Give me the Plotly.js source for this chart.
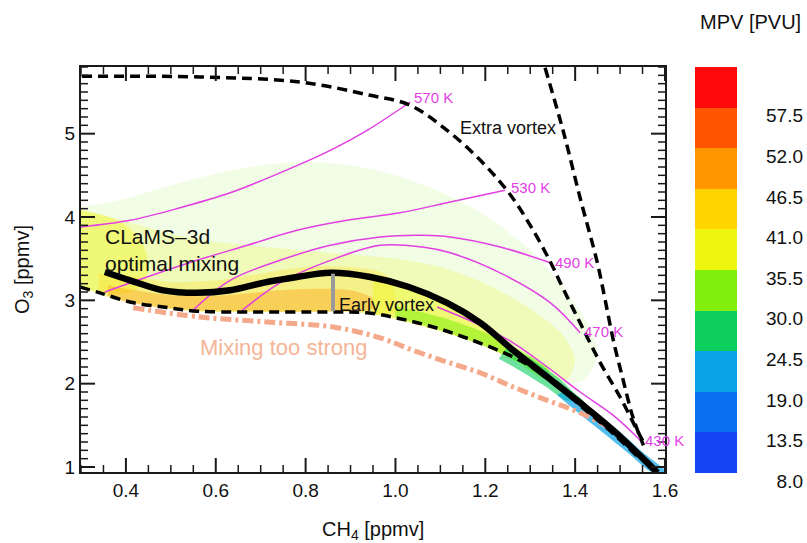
<!DOCTYPE html>
<html>
<head>
<meta charset="utf-8">
<script src="https://cdn.plot.ly/plotly-3.0.1.min.js"></script>
<style>html,body{margin:0;padding:0;background:#fff;}#chart{width:807px;height:543px;}</style>
</head>
<body>
<div id="chart"></div>
<script>
// ---- axes ----
const xRange = [0.3, 1.6];
const yRange = [0.94, 5.8];
const xMajorTicks = [0.4, 0.6, 0.8, 1.0, 1.2, 1.4, 1.6];
const xTickLabels = ['0.4', '0.6', '0.8', '1.0', '1.2', '1.4', '1.6'];
const yMajorTicks = [1, 2, 3, 4, 5];
const yTickLabels = ['1', '2', '3', '4', '5'];
const xMinorStep = 0.05;
const yMinorStep = 0.1;

// ---- colour bins (MPV [PVU]) ----
const mpvBins = [8.0, 13.5, 19.0, 24.5, 30.0, 35.5, 41.0, 46.5, 52.0, 57.5];
const mpvLabels = ['8.0', '13.5', '19.0', '24.5', '30.0', '35.5', '41.0', '46.5', '52.0', '57.5'];
const binColors = ['#1546f5', '#0a70f2', '#0aa2e6', '#0ccf5e', '#82ee0c', '#eef50e', '#ffd400', '#ff9600', '#ff5400', '#ff0a0a'];

// ---- tracer-cloud regions (CH4, O3) with their typical MPV ----
const hazeCH4 = [0.30,0.40,0.50,0.60,0.70,0.80,0.90,1.00,1.10,1.20,1.30,1.38,1.43,1.45,1.42,1.36,1.30,1.20,1.10,1.00,0.90,0.70,0.55,0.45,0.38,0.30];
const hazeO3  = [4.12,4.22,4.38,4.52,4.62,4.66,4.62,4.50,4.30,4.02,3.60,3.10,2.70,2.35,2.05,1.98,2.18,2.44,2.64,2.79,2.86,2.86,2.87,2.94,3.02,3.15];
const hazeMPV = 33;

const paleCH4 = [0.30,0.40,0.50,0.60,0.75,0.90,1.00,1.10,1.20,1.30,1.37,1.40,1.38,1.30,1.20,1.10,1.00,0.90,0.70,0.55,0.45,0.38,0.30];
const paleO3  = [4.08,3.95,3.80,3.70,3.62,3.55,3.50,3.40,3.20,2.90,2.60,2.30,2.05,2.18,2.44,2.64,2.79,2.86,2.86,2.87,2.94,3.02,3.15];
const paleMPV = 38;

const leftCH4 = [0.30,0.35,0.40,0.44,0.45,0.42,0.36,0.30];
const leftO3  = [4.08,4.02,3.90,3.65,3.35,3.12,3.08,3.15];
const leftMPV = 39;

const goldCH4 = [0.34,0.42,0.50,0.60,0.70,0.80,0.90,0.98,1.00,0.90,0.70,0.55,0.45,0.38,0.34];
const goldO3  = [3.32,3.28,3.22,3.24,3.32,3.40,3.40,3.30,2.86,2.86,2.86,2.87,2.93,3.00,3.08];
const goldMPV = 43;

const orangeCH4 = [0.36,0.42,0.50,0.58,0.66,0.74,0.82,0.90,0.95,0.95,0.85,0.70,0.56,0.47,0.40,0.36];
const orangeO3  = [3.18,3.12,3.06,3.05,3.08,3.12,3.14,3.12,3.02,2.90,2.87,2.87,2.88,2.92,2.99,3.05];
const orangeMPV = 48;

const limeCH4 = [0.95,1.03,1.11,1.19,1.26,1.32,1.36,1.32,1.26,1.19,1.11,1.03,0.95];
const limeO3  = [3.25,3.15,2.97,2.72,2.40,2.12,2.00,2.08,2.30,2.47,2.61,2.73,2.84];
const limeMPV = 37;

const greenBandCH4 = [1.00,1.10,1.20,1.28,1.34,1.34,1.28,1.20,1.10,1.00];
const greenBandO3  = [2.93,2.80,2.61,2.39,2.18,2.05,2.24,2.45,2.64,2.79];
const greenBandMPV = 33;

const greenCH4 = [1.25,1.31,1.36,1.40,1.42,1.38,1.33,1.27,1.23];
const greenO3  = [2.45,2.27,2.08,1.88,1.78,1.80,1.98,2.18,2.30];
const greenMPV = 27;

const blueCH4 = [1.38,1.44,1.50,1.55,1.60,1.60,1.57,1.52,1.46,1.40,1.36];
const blueO3  = [1.93,1.67,1.42,1.18,0.96,0.94,0.94,1.16,1.42,1.68,1.86];
const blueMPV = 21;

// ---- model curves ----
const clamsCH4 = [0.353,0.409,0.483,0.558,0.632,0.705,0.781,0.855,0.944,1.030,1.115,1.189,1.262,1.338,1.411,1.485,1.561,1.583];
const clamsO3  = [3.34,3.24,3.12,3.09,3.12,3.21,3.28,3.33,3.28,3.16,2.97,2.73,2.40,2.08,1.77,1.44,1.05,0.93];

const extraCH4 = [0.302,0.565,0.788,0.944,1.033,1.115,1.189,1.251,1.300,1.345,1.367,1.411,1.456,1.500,1.538,1.556];
const extraO3  = [5.69,5.68,5.62,5.46,5.34,5.04,4.68,4.30,3.90,3.46,3.21,2.73,2.25,1.84,1.44,1.26];

const steepCH4 = [1.333,1.373,1.411,1.449,1.467,1.485,1.507,1.529,1.552];
const steepO3  = [5.79,5.04,4.23,3.46,3.00,2.52,2.04,1.59,1.26];

const earlyCH4 = [0.298,0.342,0.409,0.483,0.558,0.670,0.855,0.937,1.010,1.084,1.162,1.262,1.338,1.411,1.485,1.540];
const earlyO3  = [3.16,3.09,2.98,2.92,2.87,2.86,2.86,2.85,2.78,2.68,2.54,2.32,2.08,1.74,1.40,1.12];

const strongCH4 = [0.416,0.565,0.714,0.861,0.966,1.039,1.115,1.189,1.262,1.338,1.411,1.485,1.500];
const strongO3  = [2.91,2.80,2.74,2.68,2.55,2.40,2.26,2.13,1.96,1.80,1.65,1.44,1.36];

const barCH4 = [0.861, 0.861];
const barO3  = [3.32, 2.87];

// ---- isentropes ----
const isoLabels = ['570 K', '530 K', '490 K', '470 K', '430 K'];
const isoCH4 = [
  [0.298,0.409,0.520,0.632,0.743,0.855,0.937,1.033],
  [0.353,0.447,0.558,0.670,0.781,0.892,1.010,1.122,1.244],
  [0.549,0.632,0.743,0.855,0.966,1.060,1.122,1.233,1.345],
  [0.659,0.743,0.855,0.966,1.060,1.122,1.233,1.345,1.411],
  [1.093,1.189,1.262,1.338,1.411,1.485,1.545]
];
const isoO3 = [
  [3.88,3.96,4.11,4.29,4.53,4.80,5.04,5.38],
  [3.10,3.28,3.48,3.66,3.84,3.96,4.05,4.18,4.32],
  [2.88,3.24,3.48,3.66,3.76,3.78,3.76,3.64,3.45],
  [2.88,3.21,3.48,3.66,3.64,3.57,3.33,2.97,2.61],
  [2.92,2.70,2.49,2.20,1.90,1.62,1.32]
];

// ---- build ----
const FONT = 'Liberation Sans, Arial, Helvetica, sans-serif';
const W = 807, H = 543, M = {l: 81, r: 4, t: 67, b: 53};
const plotW = W - M.l - M.r, plotH = H - M.t - M.b;
const mainWpx = 584, mainHpx = 405;
const xDomain = [0, mainWpx / plotW];
const yDomain = [1 - mainHpx / plotH, 1];

const step = mpvBins[1] - mpvBins[0];
const cmin = mpvBins[0], cmax = mpvBins[0] + step * mpvBins.length;
const colorscale = [];
binColors.forEach((c, i) => {
  colorscale.push([i / binColors.length, c]);
  colorscale.push([(i + 1) / binColors.length, c]);
});
function mpvColor(v, alpha) {
  let i = Math.floor((v - cmin) / step);
  i = Math.max(0, Math.min(binColors.length - 1, i));
  const h = binColors[i];
  const r = parseInt(h.slice(1, 3), 16), g = parseInt(h.slice(3, 5), 16), b = parseInt(h.slice(5, 7), 16);
  return 'rgba(' + r + ',' + g + ',' + b + ',' + alpha + ')';
}
function region(x, y, mpv, alpha) {
  return {type: 'scatter', mode: 'lines', x: x, y: y, fill: 'toself', fillcolor: mpvColor(mpv, alpha),
    line: {width: 0, shape: 'spline', smoothing: 0.8}, hoverinfo: 'skip', showlegend: false};
}
function curve(x, y, line) {
  return {type: 'scatter', mode: 'lines', x: x, y: y, hoverinfo: 'skip', showlegend: false,
    line: Object.assign({shape: 'spline', smoothing: 1}, line)};
}
const MAG = '#e23fe3';
const traces = [
  region(hazeCH4, hazeO3, hazeMPV, 0.11),
  region(paleCH4, paleO3, paleMPV, 0.20),
  region(leftCH4, leftO3, leftMPV, 0.38),
  region(goldCH4, goldO3, goldMPV, 0.26),
  region(orangeCH4, orangeO3, orangeMPV, 0.36),
  region(limeCH4, limeO3, limeMPV, 0.42),
  region(greenBandCH4, greenBandO3, greenBandMPV, 0.55),
  region(greenCH4, greenO3, greenMPV, 0.60),
  region(blueCH4, blueO3, blueMPV, 0.70),
];
isoCH4.forEach((xs, i) => traces.push(curve(xs, isoO3[i], {color: MAG, width: 1.5})));
traces.push(curve(strongCH4, strongO3, {color: '#f4a98a', width: 5, dash: '11px,4px,3px,4px'}));
traces.push(curve(extraCH4, extraO3, {color: '#000', width: 3.5, dash: '10px,6px'}));
traces.push(curve(steepCH4, steepO3, {color: '#000', width: 3.5, dash: '10px,6px'}));
traces.push(curve(earlyCH4, earlyO3, {color: '#000', width: 3.5, dash: '10px,6px'}));
traces.push(curve(clamsCH4, clamsO3, {color: '#000', width: 6.5}));
traces.push(curve(barCH4, barO3, {color: '#9a9a9a', width: 4, shape: 'linear'}));

// tick marks (inside, mirrored on all four sides), derived from the tick lists and axis ranges
const xPerPx = (xRange[1] - xRange[0]) / mainWpx, yPerPx = (yRange[1] - yRange[0]) / mainHpx;
function minorVals(lo, hi, stepv, majors) {
  const out = [];
  const n0 = Math.ceil(lo / stepv - 1e-9), n1 = Math.floor(hi / stepv + 1e-9);
  for (let n = n0; n <= n1; n++) {
    const v = +(n * stepv).toFixed(4);
    if (!majors.some(m => Math.abs(m - v) < 1e-6)) out.push(v);
  }
  return out;
}
function tickTrace(xVals, yVals, len, width) {
  const tx = [], ty = [];
  xVals.forEach(v => {
    tx.push(v, v, null, v, v, null);
    ty.push(yRange[0], yRange[0] + len * yPerPx, null, yRange[1], yRange[1] - len * yPerPx, null);
  });
  yVals.forEach(v => {
    tx.push(xRange[0], xRange[0] + len * xPerPx, null, xRange[1], xRange[1] - len * xPerPx, null);
    ty.push(v, v, null, v, v, null);
  });
  return {type: 'scatter', mode: 'lines', x: tx, y: ty, hoverinfo: 'skip', showlegend: false,
    line: {color: '#1a1a1a', width: width}};
}
traces.push(tickTrace(xMajorTicks, yMajorTicks, 14, 2));
traces.push(tickTrace(minorVals(xRange[0], xRange[1], xMinorStep, xMajorTicks),
                      minorVals(yRange[0], yRange[1], yMinorStep, yMajorTicks), 7, 1.5));

// colour bar as a heatmap on its own axes
const binMid = mpvBins.map(v => v + step / 2);
traces.push({type: 'heatmap', x: [0], y: binMid, z: binMid.map(v => [v]), xaxis: 'x2', yaxis: 'y2',
  colorscale: colorscale, zmin: cmin, zmax: cmax, showscale: false, hoverinfo: 'skip'});

const annotations = [];
const isoLabelPos = [[1.037, 5.44], [1.253, 4.36], [1.351, 3.46], [1.416, 2.63], [1.552, 1.32]];
isoLabels.forEach((t, i) => annotations.push({text: t, x: isoLabelPos[i][0], y: isoLabelPos[i][1], xref: 'x', yref: 'y',
  xanchor: 'left', yanchor: 'middle', showarrow: false, font: {family: FONT, size: 15, color: MAG}}));
function note(t, x, y, size, color) {
  annotations.push({text: t, x: x, y: y, xref: 'x', yref: 'y', xanchor: 'left', yanchor: 'middle', align: 'left',
    showarrow: false, font: {family: FONT, size: size, color: color}});
}
note('Extra vortex', 1.140, 5.07, 18, '#111');
note('CLaMS\u20133d<br>optimal mixing', 0.350, 3.60, 21, '#111');
note('Early vortex', 0.870, 2.94, 18, '#111');
note('Mixing too strong', 0.561, 2.44, 22, '#f5b596');
annotations.push({text: 'MPV [PVU]', xref: 'paper', yref: 'paper', x: 1, y: 1.106, xanchor: 'right', yanchor: 'middle',
  showarrow: false, font: {family: FONT, size: 20, color: '#111'}});
annotations.push({text: 'CH<sub>4</sub> [ppmv]', xref: 'paper', yref: 'paper', x: xDomain[1] / 2, y: -0.095,
  xanchor: 'center', yanchor: 'middle', showarrow: false, font: {family: FONT, size: 20, color: '#111'}});

const layout = {
  width: W, height: H, paper_bgcolor: '#fff', plot_bgcolor: 'rgba(0,0,0,0)',
  margin: M,
  showlegend: false,
  xaxis: {domain: xDomain, range: xRange, tickmode: 'array', tickvals: xMajorTicks, ticktext: xTickLabels,
    ticks: '', showline: true, linecolor: '#1a1a1a', linewidth: 2, mirror: true, showgrid: false, zeroline: false,
    tickfont: {family: FONT, size: 19, color: '#111'}},
  yaxis: {domain: yDomain, range: yRange, tickmode: 'array', tickvals: yMajorTicks, ticktext: yTickLabels,
    ticks: '', showline: true, linecolor: '#1a1a1a', linewidth: 2, mirror: true, showgrid: false, zeroline: false,
    tickfont: {family: FONT, size: 19, color: '#111'},
    title: {text: 'O<sub>3</sub> [ppmv]', font: {family: FONT, size: 20, color: '#111'}, standoff: 30}},
  xaxis2: {domain: [(695 - M.l) / plotW, (737 - M.l) / plotW], anchor: 'y2', range: [-0.5, 0.5], visible: false, fixedrange: true},
  yaxis2: {domain: [0, 1], anchor: 'free', position: 1, side: 'left', range: [5.7, cmax],
    tickvals: mpvBins.map(v => v - 1.1), ticktext: mpvLabels, ticks: '', showline: false, showgrid: false, zeroline: false,
    tickfont: {family: FONT, size: 19, color: '#111'}, fixedrange: true},
  annotations: annotations
};
Plotly.newPlot('chart', traces, layout, {displayModeBar: false});
</script>
</body>
</html>
